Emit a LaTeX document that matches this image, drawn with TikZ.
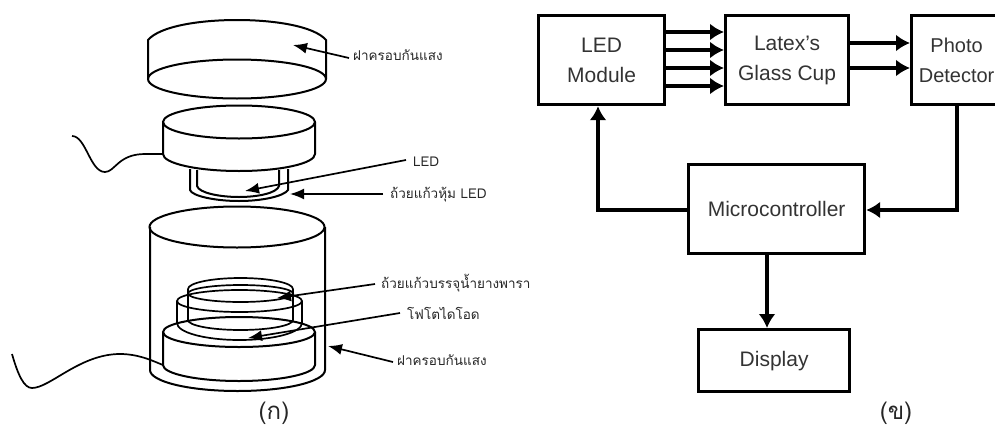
\documentclass[tikz,border=0pt]{standalone}
\usepackage{fontspec}
\setsansfont{Liberation Sans}
\newfontfamily\thaifont[Script=Thai]{Loma}
\usetikzlibrary{arrows.meta}
\tikzset{
 x=1pt,y=-1pt,
 part/.style={line width=2pt,black},
 thin part/.style={line width=1.7pt,black},
 lab/.style={font=\thaifont\fontsize{13.5}{15}\selectfont,inner sep=0pt,anchor=west,text=black!85},
 pointer/.style={line width=1.7pt,-{Latex[length=14pt,width=11pt]}},
 blockbox/.style={draw,line width=3.2pt,font=\sffamily\fontsize{21}{30}\selectfont,text=black!80,align=center,inner sep=0pt,anchor=north west},
 flow/.style={line width=3.2pt,-{Latex[length=14pt,width=17pt]}},
 cap label/.style={font=\thaifont\fontsize{24}{26}\selectfont,inner sep=0pt,text=black!85},
}
\begin{document}
\begin{tikzpicture}
\useasboundingbox (0,0) rectangle (995,434);
\clip (0,0) rectangle (995,434);
% top lid
\draw[part] (237,79) ellipse[x radius=89,y radius=19.5];
\draw[part] (148,79) -- (148,40) .. controls (160,26) and (200,20) .. (237,20) .. controls (274,20) and (314,26) .. (326,40) -- (326,79);
% LED module
\draw[part] (239,122) ellipse[x radius=76,y radius=16.5];
\draw[part] (163,122) -- (163,154) arc[start angle=180,end angle=0,x radius=76,y radius=17] -- (315,122);
\draw[thin part] (72,136) .. controls (86,136) and (90,172) .. (105,172) .. controls (115,172) and (118,154) .. (145,154) -- (162,154);
% LED cup
\draw[part] (190,169) -- (190,190) .. controls (192,196) and (215,201) .. (239,201) .. controls (263,201) and (284,196) .. (288,190) -- (288,169);
\draw[part] (197,170) -- (197,186) .. controls (199,193) and (220,197) .. (239,197) .. controls (258,197) and (277,193) .. (279,186) -- (279,170);
% big cylinder
\draw[part] (237,227) ellipse[x radius=87.5,y radius=20.5];
\draw[part] (150,227) -- (150,370) arc[start angle=180,end angle=0,x radius=87.5,y radius=21] -- (325,227);
% base
\draw[part] (239,332) ellipse[x radius=76,y radius=15];
\draw[part] (163,332) -- (163,365) arc[start angle=180,end angle=0,x radius=76,y radius=16] -- (315,332);
% photodiode
\draw[thin part] (239.5,301) ellipse[x radius=62.5,y radius=11];
\draw[thin part] (177,301) -- (177,323) arc[start angle=180,end angle=0,x radius=62.5,y radius=17] -- (302,301);
% latex cup
\draw[thin part] (240.5,293.5) ellipse[x radius=52.5,y radius=8.5];
\draw[thin part] (188,289) arc[start angle=180,end angle=360,x radius=52.5,y radius=11];
\draw[thin part] (188,289) -- (188,320) arc[start angle=180,end angle=0,x radius=52.5,y radius=10] -- (293,289);
% wire
\draw[thin part] (12,354) .. controls (18,375) and (24,388) .. (32,388) .. controls (50,388) and (80,354) .. (120,354) .. controls (140,354) and (155,362) .. (163,365);
% labels
\node[lab] (l1) at (353,55) {ฝาครอบกันแสง};
\node[lab] (l2) at (413,162) {LED};
\node[lab] (l3) at (390,195) {ถ้วยแก้วหุ้ม LED};
\node[lab] (l4) at (381,283) {ถ้วยแก้วบรรจุน้ำยางพารา};
\node[lab] (l5) at (407,313) {โฟโตไดโอด};
\node[lab] (l6) at (397,360) {ฝาครอบกันแสง};
\coordinate (p1) at (293,45);
\coordinate (p2) at (245,191);
\coordinate (p3) at (290,194);
\coordinate (p4) at (277,298);
\coordinate (p5) at (248,338);
\coordinate (p6) at (328,346);
\draw[pointer] (l1.west) ++(-4,3) -- (p1);
\draw[pointer] (l2.west) ++(-7,-2) -- (p2);
\draw[pointer] (l3.west) ++(-7,-1) -- (p3);
\draw[pointer] (l4.west) ++(-6,1) -- (p4);
\draw[pointer] (l5.west) ++(-7,0) -- (p5);
\draw[pointer] (l6.west) ++(-4,2) -- (p6);
\node[cap label] (c1) at (274,413) {(ก)};
\node[cap label] (c2) at (896,413) {(ข)};
% blocks
\node[blockbox,minimum width=126pt,minimum height=89pt] (led) at (537,14) {LED\\Module};
\node[blockbox,minimum width=123pt,minimum height=89pt] (cup) at (724,14) {Latex's\\Glass Cup};
\node[blockbox,minimum width=90pt,minimum height=89pt] (det) at (910,14) {\fontsize{20}{30}\selectfont Photo\\\fontsize{20}{30}\selectfont Detector};
\node[blockbox,minimum width=176pt,minimum height=89pt] (mcu) at (687,163) {Microcontroller};
\node[blockbox,minimum width=151pt,minimum height=62pt] (dsp) at (697,328) {Display};
\foreach \yy in {32,50,68,86}{
 \draw[flow] (led.east |- 0,\yy) -- (cup.west |- 0,\yy);
}
\foreach \yy in {43,68}{
 \draw[flow] (cup.east |- 0,\yy) -- (det.west |- 0,\yy);
}
\coordinate (jl) at (598,210);
\coordinate (jr) at (957,210);
\coordinate (jd) at (767,290);
\draw[flow] (mcu.west |- jl) -- (jl) -- (jl |- led.south);
\draw[flow] (jr |- det.south) -- (jr) -- (mcu.east |- jr);
\draw[flow] (jd |- mcu.south) -- (jd |- dsp.north);
\end{tikzpicture}
\end{document}
